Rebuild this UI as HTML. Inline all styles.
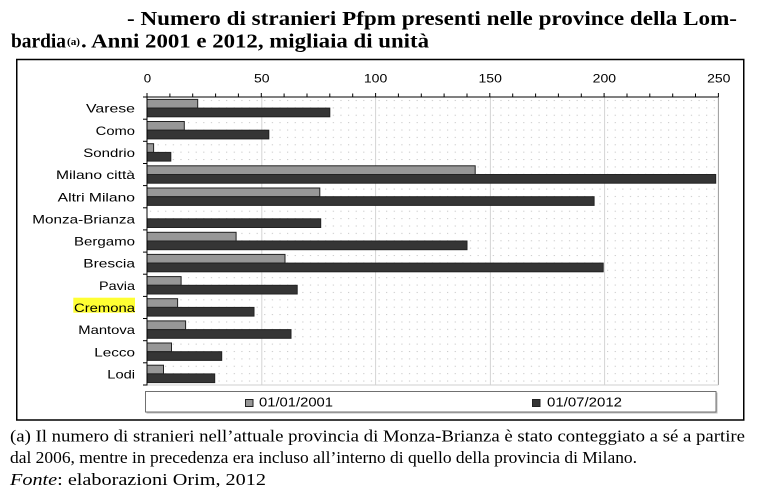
<!DOCTYPE html>
<html><head><meta charset="utf-8"><style>
html,body{margin:0;padding:0;background:#fff;}
svg{display:block;}
</style></head><body>
<svg width="761" height="494" viewBox="0 0 761 494" xmlns="http://www.w3.org/2000/svg">
<defs>
<pattern id="dots" x="147" y="97" width="7.619" height="7.383" patternUnits="userSpaceOnUse">
<rect x="3" y="3" width="1" height="1" fill="#bdbdbd"/>
</pattern>
</defs>
<rect width="761" height="494" fill="#fff"/>
<!-- Title -->
<g font-family="Liberation Serif, serif" font-weight="bold" fill="#000">
<text x="127" y="25" font-size="20" textLength="610" lengthAdjust="spacingAndGlyphs">- Numero di stranieri Pfpm presenti nelle province della Lom-</text>
<text x="11" y="47.5" font-size="20" textLength="55" lengthAdjust="spacingAndGlyphs">bardia</text>
<text x="67" y="45" font-size="11" textLength="13" lengthAdjust="spacingAndGlyphs">(a)</text>
<text x="81" y="47.5" font-size="20" textLength="348" lengthAdjust="spacingAndGlyphs">. Anni 2001 e 2012, migliaia di unità</text>
</g>
<!-- Outer box -->
<rect x="16.75" y="59.5" width="727" height="360.5" fill="none" stroke="#000" stroke-width="1.5"/>
<!-- Plot area -->
<rect x="147" y="97" width="571.4" height="288" fill="url(#dots)"/>
<g stroke="#d4d4d4" stroke-width="1">
<line x1="261.8" y1="97" x2="261.8" y2="385"/>
<line x1="375.6" y1="97" x2="375.6" y2="385"/>
<line x1="490.4" y1="97" x2="490.4" y2="385"/>
<line x1="604.6" y1="97" x2="604.6" y2="385"/>
</g>
<line x1="718.4" y1="97" x2="718.4" y2="385" stroke="#9a9a9a" stroke-width="1"/>
<line x1="147" y1="385" x2="718.4" y2="385" stroke="#cfcfcf" stroke-width="1"/>
<!-- Bars -->
<g stroke="#222" stroke-width="1">
<rect x="147" y="99.4" width="50.7" height="8.7" fill="#979797"/>
<rect x="147" y="108.1" width="182.8" height="8.7" fill="#353535"/>
<rect x="147" y="121.5" width="37.3" height="8.7" fill="#979797"/>
<rect x="147" y="130.2" width="121.8" height="8.7" fill="#353535"/>
<rect x="147" y="143.7" width="6.6" height="8.7" fill="#979797"/>
<rect x="147" y="152.4" width="23.8" height="8.7" fill="#353535"/>
<rect x="147" y="165.8" width="328.2" height="8.7" fill="#979797"/>
<rect x="147" y="174.5" width="568.7" height="8.7" fill="#353535"/>
<rect x="147" y="188.0" width="172.8" height="8.7" fill="#979797"/>
<rect x="147" y="196.7" width="447.1" height="8.7" fill="#353535"/>
<rect x="147" y="218.8" width="173.7" height="8.7" fill="#353535"/>
<rect x="147" y="232.3" width="89.1" height="8.7" fill="#979797"/>
<rect x="147" y="241.0" width="320" height="8.7" fill="#353535"/>
<rect x="147" y="254.4" width="138" height="8.7" fill="#979797"/>
<rect x="147" y="263.1" width="456.2" height="8.7" fill="#353535"/>
<rect x="147" y="276.6" width="34.1" height="8.7" fill="#979797"/>
<rect x="147" y="285.3" width="150.2" height="8.7" fill="#353535"/>
<rect x="147" y="298.7" width="30.6" height="8.7" fill="#979797"/>
<rect x="147" y="307.4" width="107" height="8.7" fill="#353535"/>
<rect x="147" y="320.9" width="38.6" height="8.7" fill="#979797"/>
<rect x="147" y="329.6" width="144" height="8.7" fill="#353535"/>
<rect x="147" y="343.0" width="24.5" height="8.7" fill="#979797"/>
<rect x="147" y="351.7" width="74.7" height="8.7" fill="#353535"/>
<rect x="147" y="365.2" width="16.5" height="8.7" fill="#979797"/>
<rect x="147" y="373.9" width="67.7" height="8.7" fill="#353535"/>
</g>
<!-- Axes -->
<g stroke="#000" stroke-width="1">
<line x1="147" y1="97" x2="718.4" y2="97"/>
<line x1="147" y1="97" x2="147" y2="385.5"/>
<line x1="147" y1="93" x2="147" y2="97"/><line x1="169.9" y1="93.5" x2="169.9" y2="97"/><line x1="192.7" y1="93.5" x2="192.7" y2="97"/><line x1="215.6" y1="93.5" x2="215.6" y2="97"/><line x1="238.4" y1="93.5" x2="238.4" y2="97"/><line x1="261.3" y1="93" x2="261.3" y2="97"/><line x1="284.1" y1="93.5" x2="284.1" y2="97"/><line x1="307" y1="93.5" x2="307" y2="97"/><line x1="329.8" y1="93.5" x2="329.8" y2="97"/><line x1="352.7" y1="93.5" x2="352.7" y2="97"/><line x1="375.6" y1="93" x2="375.6" y2="97"/><line x1="398.4" y1="93.5" x2="398.4" y2="97"/><line x1="421.3" y1="93.5" x2="421.3" y2="97"/><line x1="444.1" y1="93.5" x2="444.1" y2="97"/><line x1="467" y1="93.5" x2="467" y2="97"/><line x1="489.8" y1="93" x2="489.8" y2="97"/><line x1="512.7" y1="93.5" x2="512.7" y2="97"/><line x1="535.6" y1="93.5" x2="535.6" y2="97"/><line x1="558.4" y1="93.5" x2="558.4" y2="97"/><line x1="581.3" y1="93.5" x2="581.3" y2="97"/><line x1="604.1" y1="93" x2="604.1" y2="97"/><line x1="627" y1="93.5" x2="627" y2="97"/><line x1="649.8" y1="93.5" x2="649.8" y2="97"/><line x1="672.7" y1="93.5" x2="672.7" y2="97"/><line x1="695.5" y1="93.5" x2="695.5" y2="97"/><line x1="718.4" y1="93" x2="718.4" y2="97"/>
<line x1="143" y1="97" x2="147" y2="97"/><line x1="143" y1="119.2" x2="147" y2="119.2"/><line x1="143" y1="141.3" x2="147" y2="141.3"/><line x1="143" y1="163.5" x2="147" y2="163.5"/><line x1="143" y1="185.6" x2="147" y2="185.6"/><line x1="143" y1="207.8" x2="147" y2="207.8"/><line x1="143" y1="229.9" x2="147" y2="229.9"/><line x1="143" y1="252.1" x2="147" y2="252.1"/><line x1="143" y1="274.2" x2="147" y2="274.2"/><line x1="143" y1="296.4" x2="147" y2="296.4"/><line x1="143" y1="318.5" x2="147" y2="318.5"/><line x1="143" y1="340.7" x2="147" y2="340.7"/><line x1="143" y1="362.8" x2="147" y2="362.8"/><line x1="143" y1="385" x2="147" y2="385"/>
</g>
<!-- Tick labels -->
<g font-family="Liberation Sans, sans-serif" font-size="12" fill="#000" text-anchor="middle">
<text x="147.5" y="82.7" textLength="7.4" lengthAdjust="spacingAndGlyphs">0</text>
<text x="261.8" y="82.7" textLength="15.6" lengthAdjust="spacingAndGlyphs">50</text>
<text x="375.6" y="82.7" textLength="23.4" lengthAdjust="spacingAndGlyphs">100</text>
<text x="490.2" y="82.7" textLength="23.4" lengthAdjust="spacingAndGlyphs">150</text>
<text x="604.4" y="82.7" textLength="23.4" lengthAdjust="spacingAndGlyphs">200</text>
<text x="718.8" y="82.7" textLength="23.4" lengthAdjust="spacingAndGlyphs">250</text>
</g>
<!-- Category labels -->
<rect x="73.3" y="297.7" width="61.7" height="15" fill="#ffff33"/>
<g font-family="Liberation Sans, sans-serif" font-size="12" fill="#000">
<text x="86" y="112.7" textLength="49" lengthAdjust="spacingAndGlyphs">Varese</text>
<text x="95.7" y="134.8" textLength="39.3" lengthAdjust="spacingAndGlyphs">Como</text>
<text x="83.3" y="157" textLength="51.7" lengthAdjust="spacingAndGlyphs">Sondrio</text>
<text x="56" y="179.1" textLength="79" lengthAdjust="spacingAndGlyphs">Milano città</text>
<text x="57.7" y="201.3" textLength="77.3" lengthAdjust="spacingAndGlyphs">Altri Milano</text>
<text x="32.3" y="223.4" textLength="102.7" lengthAdjust="spacingAndGlyphs">Monza-Brianza</text>
<text x="74" y="245.6" textLength="61" lengthAdjust="spacingAndGlyphs">Bergamo</text>
<text x="83.3" y="267.7" textLength="51.7" lengthAdjust="spacingAndGlyphs">Brescia</text>
<text x="99" y="289.9" textLength="36" lengthAdjust="spacingAndGlyphs">Pavia</text>
<text x="74" y="312" textLength="61" lengthAdjust="spacingAndGlyphs">Cremona</text>
<text x="78.3" y="334.2" textLength="56.7" lengthAdjust="spacingAndGlyphs">Mantova</text>
<text x="94.3" y="356.3" textLength="40.7" lengthAdjust="spacingAndGlyphs">Lecco</text>
<text x="107.3" y="378.5" textLength="27.7" lengthAdjust="spacingAndGlyphs">Lodi</text>
</g>
<!-- Legend -->
<rect x="146.5" y="392.5" width="571" height="21" fill="#bdbdbd"/>
<rect x="145.5" y="391.5" width="570.5" height="20.5" fill="#fff" stroke="#707070" stroke-width="1"/>
<rect x="245.5" y="399.5" width="7.5" height="7" fill="#979797" stroke="#222" stroke-width="1"/>
<rect x="532.5" y="399.5" width="7.5" height="7" fill="#353535" stroke="#222" stroke-width="1"/>
<g font-family="Liberation Sans, sans-serif" font-size="13" fill="#000">
<text x="259" y="406.5" textLength="74" lengthAdjust="spacingAndGlyphs">01/01/2001</text>
<text x="547" y="406.5" textLength="75" lengthAdjust="spacingAndGlyphs">01/07/2012</text>
</g>
<!-- Footnote -->
<g font-family="Liberation Serif, serif" font-size="16.5" fill="#000">
<text x="10" y="441.5" textLength="735" lengthAdjust="spacingAndGlyphs">(a) Il numero di stranieri nell’attuale provincia di Monza-Brianza è stato conteggiato a sé a partire</text>
<text x="10" y="463" textLength="627" lengthAdjust="spacingAndGlyphs">dal 2006, mentre in precedenza era incluso all’interno di quello della provincia di Milano.</text>
<text x="10" y="485" textLength="256" lengthAdjust="spacingAndGlyphs"><tspan font-style="italic">Fonte</tspan>: elaborazioni Orim, 2012</text>
</g>
</svg>
</body></html>
